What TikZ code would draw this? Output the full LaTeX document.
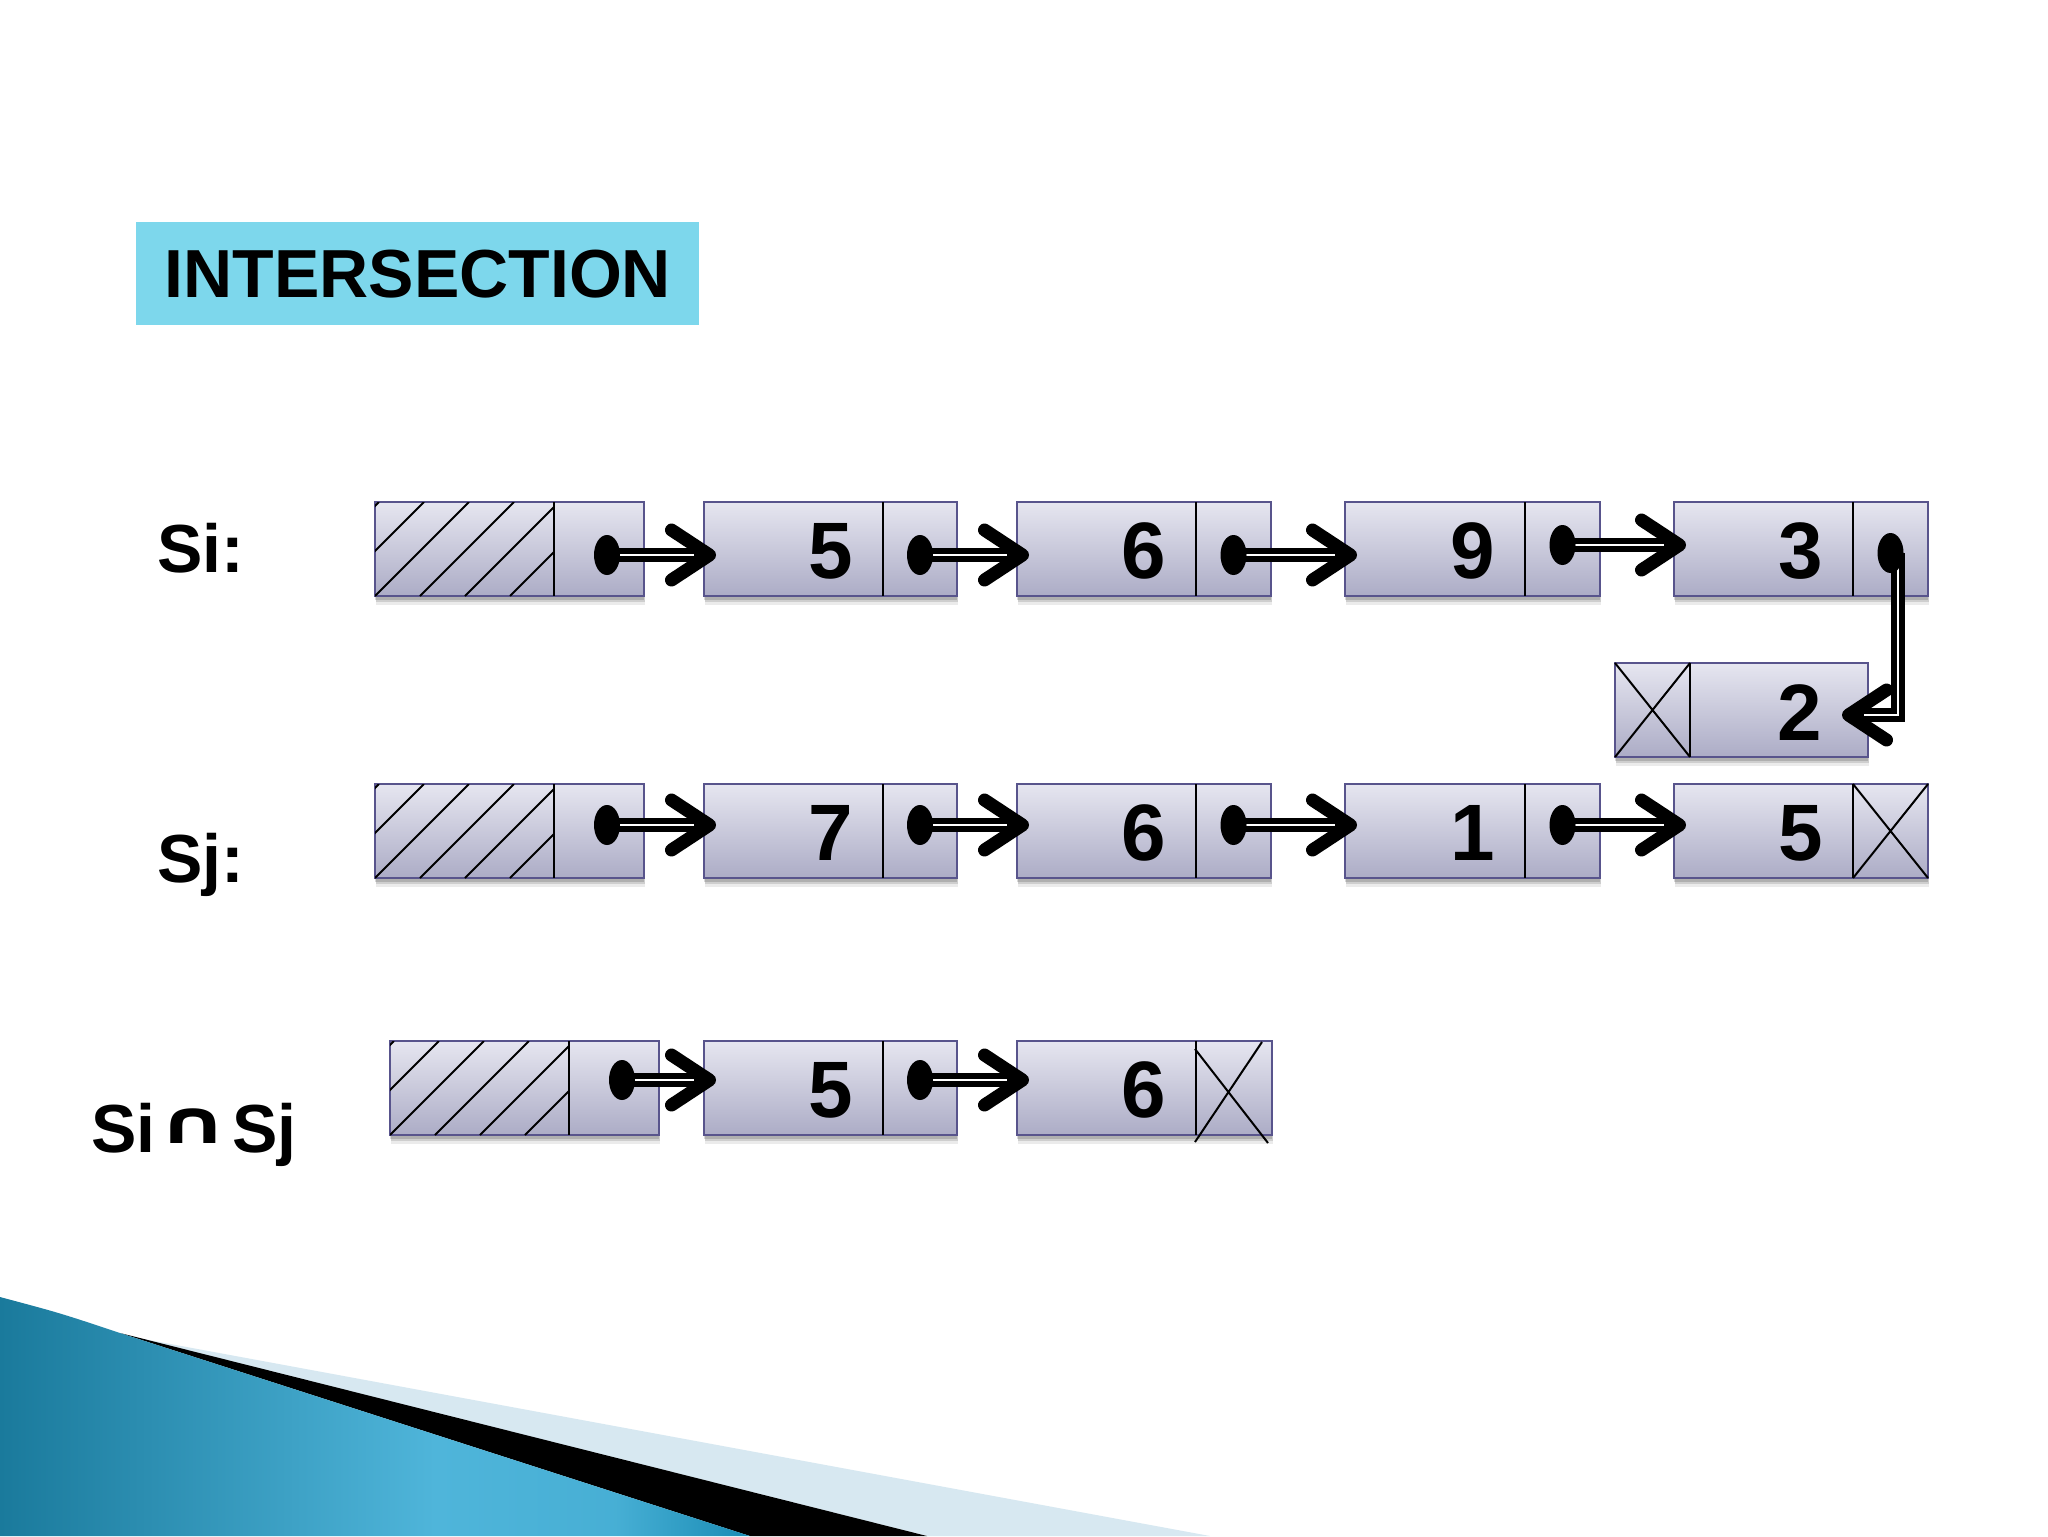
\documentclass[tikz,border=0pt]{standalone}
\usepackage{fontspec}
\setmainfont{Liberation Sans}
\newfontfamily\symfont{DejaVu Sans}
\usetikzlibrary{arrows.meta,calc,shadows}
\definecolor{titlebg}{HTML}{7DD7EC}
\definecolor{cellborder}{HTML}{58548C}
\definecolor{celltop}{HTML}{E6E6F0}
\definecolor{cellbot}{HTML}{ACACC6}
\definecolor{tealdark}{HTML}{1A7A9C}
\definecolor{teallight}{HTML}{4FB5DA}
\definecolor{tealmid}{HTML}{1A8CB5}
\definecolor{paleblue}{HTML}{D7E8F1}
\pgfdeclarehorizontalshading{tealshade}{100bp}{color(0bp)=(tealdark); color(25bp)=(tealdark);
  color(54bp)=(teallight); color(66bp)=(teallight!85!tealmid); color(75bp)=(tealmid); color(100bp)=(tealmid)}
\newcommand\ptrto[2]{%
  \draw[conn] (#1) -- (#2);
  \draw[innerline] (#1) -- ($(#2)+(-22,0)$);
  \fill (#1) ellipse [x radius=6.5pt, y radius=10pt];}
\begin{document}
\begin{tikzpicture}[x=0.5pt,y=-0.5pt,
  cell/.style={draw=cellborder, line width=1pt, top color=celltop, bottom color=cellbot,
    inner sep=0pt, outer sep=0pt, anchor=north west, minimum height=47pt,
    drop shadow={shadow xshift=0.5pt, shadow yshift=-4.5pt, opacity=.08, fill=black},
    drop shadow={shadow xshift=0.5pt, shadow yshift=-3pt, opacity=.12, fill=black},
    drop shadow={shadow xshift=0pt, shadow yshift=-1.8pt, opacity=.15, fill=black}},
  digit/.style={font=\fontsize{40}{40}\selectfont\bfseries, inner sep=0pt},
  lbl/.style={font=\fontsize{34}{34}\selectfont\bfseries, inner sep=0pt},
  conn/.style={line width=7pt, line join=miter, -{Straight Barb[length=19pt,width=25pt,line width=6.5pt,round]}},
  innerline/.style={white, line width=1pt},
  sepline/.style={black, line width=1pt},
  xline/.style={black, line width=1pt},
  hatchline/.style={black, line width=1pt}
]
\useasboundingbox (0,0) rectangle (2048,1536);
\fill[white] (0,0) rectangle (2048,1536);

% bottom decoration
\fill[paleblue] (138,1338) -- (1210,1536) -- (927,1536) -- cycle;
\fill[black] (120,1333) -- (927,1536) -- (750,1536) -- cycle;
\shade[shading=tealshade]
  (0,1297) .. controls (60,1313) .. (120,1333) -- (750,1536) -- (0,1536) -- cycle;

% title
\node[fill=titlebg, minimum width=281.5pt, minimum height=51.5pt, anchor=north west,
  inner sep=0pt, font=\fontsize{34}{34}\selectfont\bfseries] (title) at (136,222) {INTERSECTION};

% labels
\node[lbl, anchor=base west] (lsi) at (157,572) {Si:};
\node[lbl, anchor=base west] (lsj) at (157,882) {Sj:};
\node[lbl, anchor=base west] (lres) at (91,1152) {Si\hspace{1pt}\raisebox{4.5pt}{\scalebox{1.47}[1]{\symfont\fontsize{30}{30}\selectfont\bfseries ∩}}\hspace{1.5pt}Sj};

% ---- row Si ----
\node[cell, minimum width=89.5pt] (hih) at (375,502) {};
\node[cell, minimum width=45pt] (hip) at (554,502) {};
\node[cell, minimum width=89.5pt] (si1v) at (704,502) {};
\node[cell, minimum width=37pt] (si1p) at (883,502) {};
\node[cell, minimum width=89.5pt] (si2v) at (1017,502) {};
\node[cell, minimum width=37.5pt] (si2p) at (1196,502) {};
\node[cell, minimum width=90pt] (si3v) at (1345,502) {};
\node[cell, minimum width=37.5pt] (si3p) at (1525,502) {};
\node[cell, minimum width=89.5pt] (si4v) at (1674,502) {};
\node[cell, minimum width=37.5pt] (si4p) at (1853,502) {};

% node 2
\node[cell, minimum width=37.5pt] (n2x) at (1615,663) {};
\node[cell, minimum width=89pt] (n2v) at (1690,663) {};

% ---- row Sj ----
\node[cell, minimum width=89.5pt] (hjh) at (375,784) {};
\node[cell, minimum width=45pt] (hjp) at (554,784) {};
\node[cell, minimum width=89.5pt] (sj1v) at (704,784) {};
\node[cell, minimum width=37pt] (sj1p) at (883,784) {};
\node[cell, minimum width=89.5pt] (sj2v) at (1017,784) {};
\node[cell, minimum width=37.5pt] (sj2p) at (1196,784) {};
\node[cell, minimum width=90pt] (sj3v) at (1345,784) {};
\node[cell, minimum width=37.5pt] (sj3p) at (1525,784) {};
\node[cell, minimum width=89.5pt] (sj4v) at (1674,784) {};
\node[cell, minimum width=37.5pt] (sj4p) at (1853,784) {};

% ---- result row ----
\node[cell, minimum width=89.5pt] (hrh) at (390,1041) {};
\node[cell, minimum width=45pt] (hrp) at (569,1041) {};
\node[cell, minimum width=89.5pt] (r1v) at (704,1041) {};
\node[cell, minimum width=37pt] (r1p) at (883,1041) {};
\node[cell, minimum width=89.5pt] (r2v) at (1017,1041) {};
\node[cell, minimum width=38pt] (r2p) at (1196,1041) {};

% separators
\foreach \n in {hih,si1v,si2v,si3v,si4v,n2x,hjh,sj1v,sj2v,sj3v,sj4v,hrh,r1v,r2v}
  \draw[sepline] (\n.north east) -- (\n.south east);

% hatching
\foreach \n in {hih,hjh,hrh}{
  \begin{scope}
    \clip (\n.north west) rectangle (\n.south east);
    \foreach \k in {-2,...,4}
      \draw[hatchline] ($(\n.south west)+(45*\k,0)$) -- ++(94,-94);
  \end{scope}}

% crosses
\draw[xline] (n2x.north west) -- (n2x.south east) (n2x.south west) -- (n2x.north east);
\draw[xline] (sj4p.north west) -- (sj4p.south east) (sj4p.south west) -- (sj4p.north east);
\draw[xline] ($(r2p.north west)+(-1,8)$) -- ($(r2p.south east)+(-4,8)$)
             ($(r2p.south west)+(-1,7)$) -- ($(r2p.north east)+(-10,1)$);

% digits
\node[digit] (t_si1) at ($(si1v.east)+(-52,2)$) {5};
\node[digit] (t_si2) at ($(si2v.east)+(-52,2)$) {6};
\node[digit] (t_si3) at ($(si3v.east)+(-52,2)$) {9};
\node[digit] (t_si4) at ($(si4v.east)+(-52,2)$) {3};
\node[digit] (t_n2) at ($(n2v.east)+(-68,3)$) {2};
\node[digit] (t_sj1) at ($(sj1v.east)+(-52,2)$) {7};
\node[digit] (t_sj2) at ($(sj2v.east)+(-52,2)$) {6};
\node[digit] (t_sj3) at ($(sj3v.east)+(-52,2)$) {1};
\node[digit] (t_sj4) at ($(sj4v.east)+(-52,2)$) {5};
\node[digit] (t_r1) at ($(r1v.east)+(-52,2)$) {5};
\node[digit] (t_r2) at ($(r2v.east)+(-52,2)$) {6};

% pointers row Si
\coordinate (a1) at ($(hip.center)+(8,6)$);  \coordinate (b1) at ($(si1v.west)+(12,6)$);
\coordinate (a2) at ($(si1p.center)+(0,6)$); \coordinate (b2) at ($(si2v.west)+(12,6)$);
\coordinate (a3) at ($(si2p.center)+(0,6)$); \coordinate (b3) at ($(si3v.west)+(12,6)$);
\coordinate (a4) at ($(si3p.center)+(0,-4)$); \coordinate (b4) at ($(si4v.west)+(12,-4)$);
\ptrto{a1}{b1}
\ptrto{a2}{b2}
\ptrto{a3}{b3}
\ptrto{a4}{b4}

% elbow pointer 3 -> 2
\coordinate (a5) at ($(si4p.center)+(0,4)$);
\coordinate (e5) at ($(si4p.center)+(7,4)$);
\coordinate (b5) at ($(n2v.east)+(-26,5)$);
\draw[conn] (e5) -- (e5 |- b5) -- (b5);
\draw[innerline] (e5) -- (e5 |- b5) -- ($(b5)+(22,0)$);
\fill (a5) ellipse [x radius=6.5pt, y radius=10pt];

% pointers row Sj
\coordinate (c1) at ($(hjp.center)+(8,-6)$);  \coordinate (f1) at ($(sj1v.west)+(12,-6)$);
\coordinate (c2) at ($(sj1p.center)+(0,-6)$); \coordinate (f2) at ($(sj2v.west)+(12,-6)$);
\coordinate (c3) at ($(sj2p.center)+(0,-6)$); \coordinate (f3) at ($(sj3v.west)+(12,-6)$);
\coordinate (c4) at ($(sj3p.center)+(0,-6)$); \coordinate (f4) at ($(sj4v.west)+(12,-6)$);
\ptrto{c1}{f1}
\ptrto{c2}{f2}
\ptrto{c3}{f3}
\ptrto{c4}{f4}

% pointers result row
\coordinate (g1) at ($(hrp.center)+(8,-8)$);  \coordinate (h1) at ($(r1v.west)+(12,-8)$);
\coordinate (g2) at ($(r1p.center)+(0,-8)$);  \coordinate (h2) at ($(r2v.west)+(12,-8)$);
\ptrto{g1}{h1}
\ptrto{g2}{h2}
\end{tikzpicture}
\end{document}
